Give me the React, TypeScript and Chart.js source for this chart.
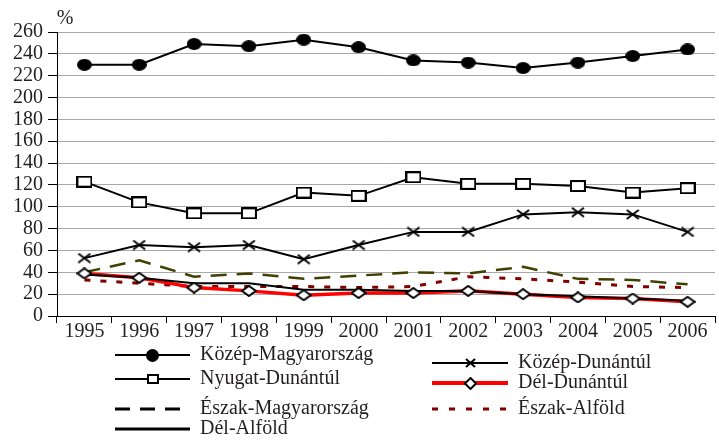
import React, { useEffect, useRef } from 'react';
import { Chart, registerables } from 'chart.js';

Chart.register(...registerables);

const years = ['1995', '1996', '1997', '1998', '1999', '2000', '2001', '2002', '2003', '2004', '2005', '2006'];
const kozepMagyarorszag = [230, 230, 249, 247, 253, 246, 234, 232, 227, 232, 238, 244];
const nyugatDunantul = [123, 104, 94, 94, 113, 110, 127, 121, 121, 119, 113, 117];
const kozepDunantul = [53, 65, 63, 65, 52, 65, 77, 77, 93, 95, 93, 77];
const delDunantul = [39, 35, 26, 23, 19, 21, 21, 23, 20, 17, 16, 13];
const delAlfold = [38, 35, 30, 30, 24, 24, 23, 23, 20, 18, 16, 14];
const eszakMagyarorszag = [40, 51, 36, 39, 34, 37, 40, 39, 45, 34, 33, 29];
const eszakAlfold = [33, 30, 27, 27, 27, 26, 27, 36, 34, 31, 27, 26];
const yMin = 0;
const yMax = 260;
const yStep = 20;
const unitLabel = '%';

const FONT = '"Liberation Serif", "Times New Roman", serif';
const TEXT = '#231f20';

function makeMarker(kind: string, w: number, h: number): HTMLCanvasElement {
  const c = document.createElement('canvas');
  c.width = w;
  c.height = h;
  const g = c.getContext('2d')!;
  g.lineWidth = 2;
  g.strokeStyle = '#000';
  if (kind === 'ellipse') {
    g.fillStyle = '#000';
    g.beginPath();
    g.ellipse(w / 2, h / 2, w / 2, h / 2, 0, 0, Math.PI * 2);
    g.fill();
  } else if (kind === 'rect') {
    g.fillStyle = '#fff';
    g.fillRect(1, 1, w - 2, h - 2);
    g.strokeRect(1, 1, w - 2, h - 2);
  } else if (kind === 'cross') {
    g.beginPath();
    g.moveTo(1, 1);
    g.lineTo(w - 1, h - 1);
    g.moveTo(w - 1, 1);
    g.lineTo(1, h - 1);
    g.stroke();
  } else if (kind === 'diamond') {
    g.fillStyle = '#fff';
    g.beginPath();
    g.moveTo(w / 2, 1);
    g.lineTo(w - 1, h / 2);
    g.lineTo(w / 2, h - 1);
    g.lineTo(1, h / 2);
    g.closePath();
    g.fill();
    g.stroke();
  }
  return c;
}

export default function App() {
  const ref = useRef<HTMLCanvasElement | null>(null);

  useEffect(() => {
    document.body.style.margin = '0';
    const canvas = ref.current;
    if (!canvas) return;

    const mEllipse = makeMarker('ellipse', 15, 12);
    const mRect = makeMarker('rect', 16, 12);
    const mCross = makeMarker('cross', 14, 11);
    const mDiamond = makeMarker('diamond', 16, 12);
    const lEllipse = makeMarker('ellipse', 13, 13);
    const lRect = makeMarker('rect', 12, 10);
    const lCross = makeMarker('cross', 11, 10);
    const lDiamond = makeMarker('diamond', 13, 13);

    const legendPlugin = {
      id: 'customLegend',
      afterDraw(chart: any) {
        const ctx = chart.ctx as CanvasRenderingContext2D;
        ctx.save();
        ctx.font = `20px ${FONT}`;
        ctx.fillStyle = TEXT;
        ctx.textAlign = 'center';
        ctx.textBaseline = 'middle';
        ctx.fillText(unitLabel, 65, 19);

        const items = [
          { x1: 115, x2: 190, y: 355, color: '#000', width: 2, dash: [] as number[], marker: lEllipse, label: 'Közép-Magyarország' },
          { x1: 115, x2: 190, y: 379, color: '#000', width: 2, dash: [], marker: lRect, label: 'Nyugat-Dunántúl' },
          { x1: 115, x2: 190, y: 409, color: '#000', width: 3, dash: [15, 10], marker: null, label: 'Észak-Magyarország' },
          { x1: 115, x2: 190, y: 429, color: '#000', width: 3, dash: [], marker: null, label: 'Dél-Alföld' },
          { x1: 432, x2: 508, y: 363, color: '#000', width: 2, dash: [], marker: lCross, label: 'Közép-Dunántúl' },
          { x1: 432, x2: 508, y: 383, color: '#ff0000', width: 4, dash: [], marker: lDiamond, label: 'Dél-Dunántúl' },
          { x1: 432, x2: 508, y: 409, color: '#800000', width: 3, dash: [6, 11], marker: null, label: 'Észak-Alföld' },
        ];
        for (const it of items) {
          ctx.beginPath();
          ctx.setLineDash(it.dash);
          ctx.strokeStyle = it.color;
          ctx.lineWidth = it.width;
          ctx.moveTo(it.x1, it.y);
          ctx.lineTo(it.x2, it.y);
          ctx.stroke();
          ctx.setLineDash([]);
          if (it.marker) {
            const mx = (it.x1 + it.x2) / 2;
            ctx.drawImage(it.marker, Math.round(mx - it.marker.width / 2), Math.round(it.y - it.marker.height / 2));
          }
          ctx.fillStyle = TEXT;
          ctx.textAlign = 'left';
          ctx.textBaseline = 'middle';
          ctx.font = `20px ${FONT}`;
          ctx.fillText(it.label, it.x2 + 10, it.y);
        }
        ctx.restore();
      },
    };

    const chart = new Chart(canvas, {
      type: 'line',
      data: {
        labels: years,
        datasets: [
          { label: 'Közép-Magyarország', data: kozepMagyarorszag, borderColor: '#000', borderWidth: 2, pointStyle: mEllipse, pointRadius: 6, tension: 0, order: 0 },
          { label: 'Nyugat-Dunántúl', data: nyugatDunantul, borderColor: '#000', borderWidth: 2, pointStyle: mRect, pointRadius: 6, tension: 0, order: 1 },
          { label: 'Közép-Dunántúl', data: kozepDunantul, borderColor: '#000', borderWidth: 2, pointStyle: mCross, pointRadius: 6, tension: 0, order: 2 },
          { label: 'Dél-Dunántúl (jelölők)', data: delDunantul, showLine: false, pointStyle: mDiamond, pointRadius: 6, order: 3 },
          { label: 'Dél-Alföld', data: delAlfold, borderColor: '#000', borderWidth: 2, pointRadius: 0, tension: 0, order: 4 },
          { label: 'Dél-Dunántúl', data: delDunantul, borderColor: '#ff0000', borderWidth: 3.5, pointRadius: 0, tension: 0, order: 5 },
          { label: 'Észak-Alföld', data: eszakAlfold, borderColor: '#800000', borderWidth: 3, borderDash: [6, 10], pointRadius: 0, tension: 0, order: 6 },
          { label: 'Észak-Magyarország', data: eszakMagyarorszag, borderColor: '#404000', borderWidth: 2.5, borderDash: [16, 10], pointRadius: 0, tension: 0, order: 7 },
        ],
      },
      options: {
        responsive: false,
        animation: false,
        devicePixelRatio: 1,
        layout: { padding: { top: 32, right: 0, bottom: 94, left: 0 } },
        plugins: {
          legend: { display: false },
          tooltip: { enabled: false },
        },
        scales: {
          x: {
            type: 'category',
            offset: true,
            grid: { offset: true, drawOnChartArea: false, drawTicks: true, tickLength: 7, tickColor: '#000', tickWidth: 1 },
            border: { color: '#000', width: 1 },
            ticks: { font: { family: FONT, size: 20 }, color: TEXT, padding: -3, maxRotation: 0, autoSkip: false },
            afterFit: (s: any) => { s.height = 30; },
          },
          y: {
            min: yMin,
            max: yMax,
            ticks: { stepSize: yStep, font: { family: FONT, size: 20 }, color: TEXT, padding: 5, autoSkip: false },
            grid: { color: '#a8a8a8', lineWidth: 1, tickLength: 9, tickColor: '#000' },
            border: { color: '#000', width: 1 },
            afterFit: (s: any) => { s.width = 57; },
          },
        },
      },
      plugins: [legendPlugin],
    } as any);

    return () => {
      chart.destroy();
    };
  }, []);

  return (
    <div style={{ width: 719, height: 440, overflow: 'hidden', position: 'relative', background: '#fff' }}>
      <canvas ref={ref} width={723} height={440} style={{ display: 'block', width: 723, height: 440 }} />
    </div>
  );
}
